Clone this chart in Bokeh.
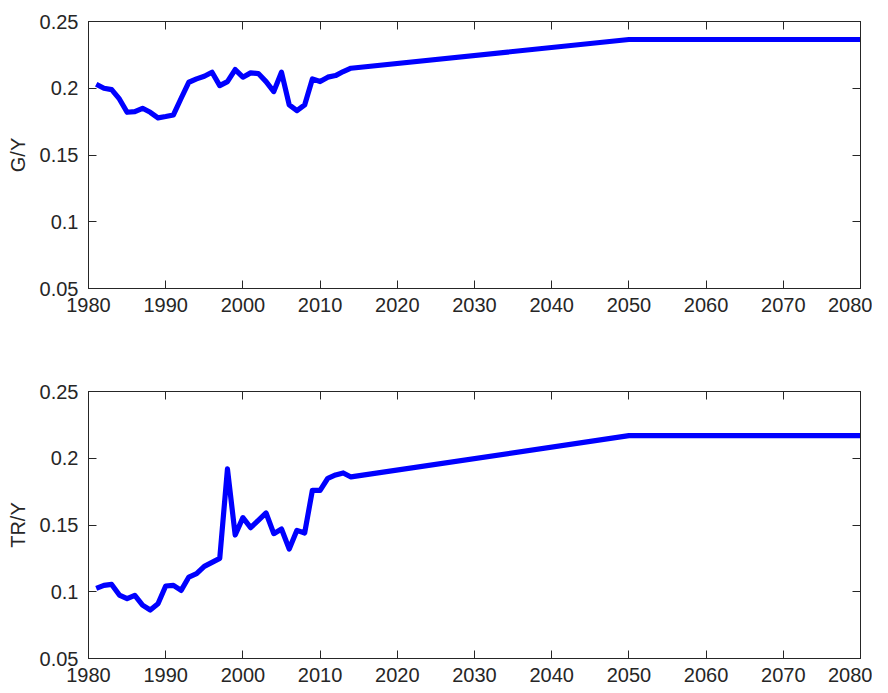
from bokeh.plotting import figure
from bokeh.models import Range1d, FixedTicker, LinearAxis
from bokeh.layouts import column
from bokeh.embed import file_html
from bokeh.resources import INLINE

years = [1981, 1982, 1983, 1984, 1985, 1986, 1987, 1988, 1989, 1990,
         1991, 1992, 1993, 1994, 1995, 1996, 1997, 1998, 1999, 2000,
         2001, 2002, 2003, 2004, 2005, 2006, 2007, 2008, 2009, 2010,
         2011, 2012, 2013, 2014, 2050, 2080]

g_y = [0.203, 0.200, 0.199, 0.192, 0.182, 0.1825, 0.185, 0.182, 0.1778, 0.1788,
       0.180, 0.1925, 0.2045, 0.207, 0.209, 0.212, 0.202, 0.205, 0.214, 0.2083,
       0.2115, 0.211, 0.205, 0.1975, 0.212, 0.1875, 0.1833, 0.1875, 0.207, 0.205,
       0.2083, 0.2095, 0.2125, 0.215, 0.2365, 0.2365]

tr_y = [0.1025, 0.1048, 0.1055, 0.0975, 0.0948, 0.0973, 0.090, 0.0863, 0.091, 0.1043,
        0.1048, 0.101, 0.111, 0.1135, 0.119, 0.122, 0.125, 0.192, 0.1425, 0.1555,
        0.148, 0.1535, 0.159, 0.1435, 0.147, 0.132, 0.146, 0.144, 0.176, 0.176,
        0.185, 0.1875, 0.189, 0.186, 0.217, 0.217]

x_ticks = [1980, 1990, 2000, 2010, 2020, 2030, 2040, 2050, 2060, 2070, 2080]
y_ticks = [0.05, 0.1, 0.15, 0.2, 0.25]
y_tick_labels = ["0.05", "0.1", "0.15", "0.2", "0.25"]

AX = "#262626"
FONT = "Liberation Sans"


def style_axis(ax, labels=True):
    ax.axis_line_color = AX
    ax.axis_line_width = 1
    ax.major_tick_line_color = AX
    ax.major_tick_in = 8
    ax.major_tick_out = 0
    ax.minor_tick_line_color = None
    ax.major_label_text_font = FONT
    if labels:
        ax.major_label_text_color = AX
        ax.major_label_text_font_size = "20px"
    else:
        ax.major_label_text_color = None
        ax.major_label_text_font_size = "0px"
        ax.major_label_standoff = 0


def make_fig(height, top, bottom, yvals, label):
    p = figure(width=872, height=height,
               x_range=Range1d(1980, 2080), y_range=Range1d(0.05, 0.25),
               output_backend="svg", toolbar_location=None,
               min_border_left=88, min_border_right=12,
               min_border_top=top, min_border_bottom=bottom)
    p.xgrid.visible = False
    p.ygrid.visible = False
    p.outline_line_color = AX
    p.background_fill_color = "white"
    p.border_fill_color = "white"

    p.line(years, yvals, line_width=5.2, line_color="#0000FF", line_join="round")

    xa = p.xaxis[0]
    xa.ticker = FixedTicker(ticks=x_ticks)
    style_axis(xa)
    xa.major_label_standoff = 9

    ya = p.yaxis[0]
    ya.ticker = FixedTicker(ticks=y_ticks)
    style_axis(ya)
    ya.major_label_standoff = 10
    ya.major_label_overrides = {t: s for t, s in zip(y_ticks, y_tick_labels)}
    ya.axis_label = label
    ya.axis_label_text_font = FONT
    ya.axis_label_text_font_size = "20px"
    ya.axis_label_text_font_style = "normal"
    ya.axis_label_text_color = AX
    ya.axis_label_standoff = 8

    top_ax = LinearAxis(ticker=FixedTicker(ticks=x_ticks))
    style_axis(top_ax, labels=False)
    p.add_layout(top_ax, "above")
    right_ax = LinearAxis(ticker=FixedTicker(ticks=y_ticks))
    style_axis(right_ax, labels=False)
    p.add_layout(right_ax, "right")
    return p


p1 = make_fig(21 + 267 + 45, 21, 45, g_y, "G/Y")
p2 = make_fig(58 + 267 + 31, 58, 31, tr_y, "TR/Y")

layout = column(p1, p2)
open("out.html", "w").write(file_html(layout, INLINE))
